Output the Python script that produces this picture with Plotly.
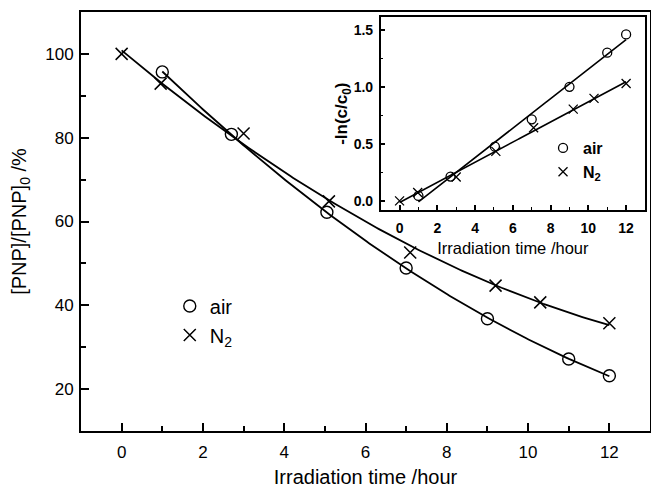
import numpy as np
import plotly.graph_objects as go

# ---------------- data ----------------
air_t = [1.0, 2.7, 5.05, 7.0, 9.0, 11.0, 12.0]
air_pct = [95.7, 80.8, 62.2, 48.9, 36.8, 27.2, 23.2]
n2_t = [0.0, 0.96, 3.0, 5.1, 7.1, 9.2, 10.3, 12.0]
n2_pct = [100.0, 92.9, 81.0, 64.8, 52.6, 44.7, 40.7, 35.7]

# inset: -ln(c/c0)
air_ln = [0.044, 0.213, 0.475, 0.715, 1.00, 1.30, 1.46]
n2_ln = [0.0, 0.074, 0.21, 0.434, 0.642, 0.805, 0.899, 1.03]

x_ticks = [0, 2, 4, 6, 8, 10, 12]
y_ticks_main = [20, 40, 60, 80, 100]
y_ticks_inset = [0.0, 0.5, 1.0, 1.5]
y_tick_text_inset = ["0.0", "0.5", "1.0", "1.5"]

FONT = "Liberation Sans, Arial, sans-serif"


def smooth_fit(t, y, deg):
    t = np.asarray(t, float)
    y = np.asarray(y, float)
    c = np.polyfit(t, y, deg)
    tt = np.linspace(t.min(), t.max(), 200)
    return tt, np.polyval(c, tt)


fig = go.Figure()

# ---------- main plot ----------
for t, y in [(air_t, air_pct), (n2_t, n2_pct)]:
    tt, yy = smooth_fit(t, y, 2)
    fig.add_trace(go.Scatter(x=tt, y=yy, mode="lines", line=dict(color="black", width=1.8),
                             showlegend=False, hoverinfo="skip", xaxis="x", yaxis="y"))

fig.add_trace(go.Scatter(x=air_t, y=air_pct, mode="markers", name="air",
                         marker=dict(symbol="circle-open", size=12, color="black", line=dict(width=1.4)),
                         xaxis="x", yaxis="y", legend="legend"))
fig.add_trace(go.Scatter(x=n2_t, y=n2_pct, mode="markers", name="N<sub>2</sub>",
                         marker=dict(symbol="x-thin-open", size=12, color="black", line=dict(width=1.5)),
                         xaxis="x", yaxis="y", legend="legend"))

# ---------- inset ----------
for t, y in [(air_t, air_ln), (n2_t, n2_ln)]:
    tt, yy = smooth_fit(t, y, 1)
    fig.add_trace(go.Scatter(x=tt, y=yy, mode="lines", line=dict(color="black", width=1.6),
                             showlegend=False, hoverinfo="skip", xaxis="x2", yaxis="y2"))

fig.add_trace(go.Scatter(x=air_t, y=air_ln, mode="markers", name="air",
                         marker=dict(symbol="circle-open", size=9, color="black", line=dict(width=1.3)),
                         xaxis="x2", yaxis="y2", legend="legend2"))
fig.add_trace(go.Scatter(x=n2_t, y=n2_ln, mode="markers", name="N<sub>2</sub>",
                         marker=dict(symbol="x-thin-open", size=9, color="black", line=dict(width=1.3)),
                         xaxis="x2", yaxis="y2", legend="legend2"))

axis_common = dict(showline=True, linecolor="black", mirror=True, ticks="inside",
                   tickcolor="black", showgrid=False, zeroline=False, automargin=False)

fig.update_layout(
    width=651, height=488,
    margin=dict(l=81, r=1, t=12, b=57),
    paper_bgcolor="white", plot_bgcolor="white",
    font=dict(family=FONT, color="black"),
    xaxis=dict(**axis_common, domain=[0, 1], range=[-1, 13], tickvals=x_ticks,
               linewidth=2, ticklen=8, tickwidth=2,
               minor=dict(dtick=1, tick0=0, ticks="inside", ticklen=5, tickwidth=1.5, tickcolor="black"),
               tickfont=dict(size=17), ticklabelstandoff=5,
               title=dict(text="Irradiation time /hour", font=dict(size=20), standoff=14)),
    yaxis=dict(**axis_common, domain=[0, 1], range=[10, 110], tickvals=y_ticks_main,
               linewidth=2, ticklen=8, tickwidth=2,
               minor=dict(dtick=10, tick0=0, ticks="inside", ticklen=5, tickwidth=1.5, tickcolor="black"),
               tickfont=dict(size=17), ticklabelstandoff=2,
               title=dict(text="[PNP]/[PNP]<sub>0</sub> /%", font=dict(size=20), standoff=13)),
    xaxis2=dict(**axis_common, domain=[0.5267, 0.9912], anchor="y2", range=[-1, 13], tickvals=x_ticks,
                linewidth=1.5, ticklen=5, tickwidth=1.5,
                minor=dict(dtick=1, tick0=0, ticks="inside", ticklen=3, tickwidth=1, tickcolor="black"),
                tickfont=dict(size=14, weight="bold"), ticklabelstandoff=4,
                title=dict(text="Irradiation time /hour", font=dict(size=16.5), standoff=8)),
    yaxis2=dict(**axis_common, domain=[0.5274, 0.9874], anchor="x2", range=[-0.08, 1.61],
                tickvals=y_ticks_inset, ticktext=y_tick_text_inset,
                linewidth=1.5, ticklen=5, tickwidth=1.5,
                minor=dict(dtick=0.25, tick0=0, ticks="inside", ticklen=3, tickwidth=1, tickcolor="black"),
                tickfont=dict(size=14, weight="bold"), ticklabelstandoff=3,
                title=dict(text="-ln(c/c<sub>0</sub>)", font=dict(size=17, weight="bold"), standoff=1)),
    legend=dict(x=0.156, y=0.345, xanchor="left", yanchor="top", bgcolor="rgba(0,0,0,0)",
                font=dict(size=20), borderwidth=0, tracegroupgap=0),
    legend2=dict(x=0.812, y=0.716, xanchor="left", yanchor="top", bgcolor="rgba(0,0,0,0)",
                 font=dict(size=16, weight="bold"), borderwidth=0, tracegroupgap=0),
)

fig.write_html("out.html")
